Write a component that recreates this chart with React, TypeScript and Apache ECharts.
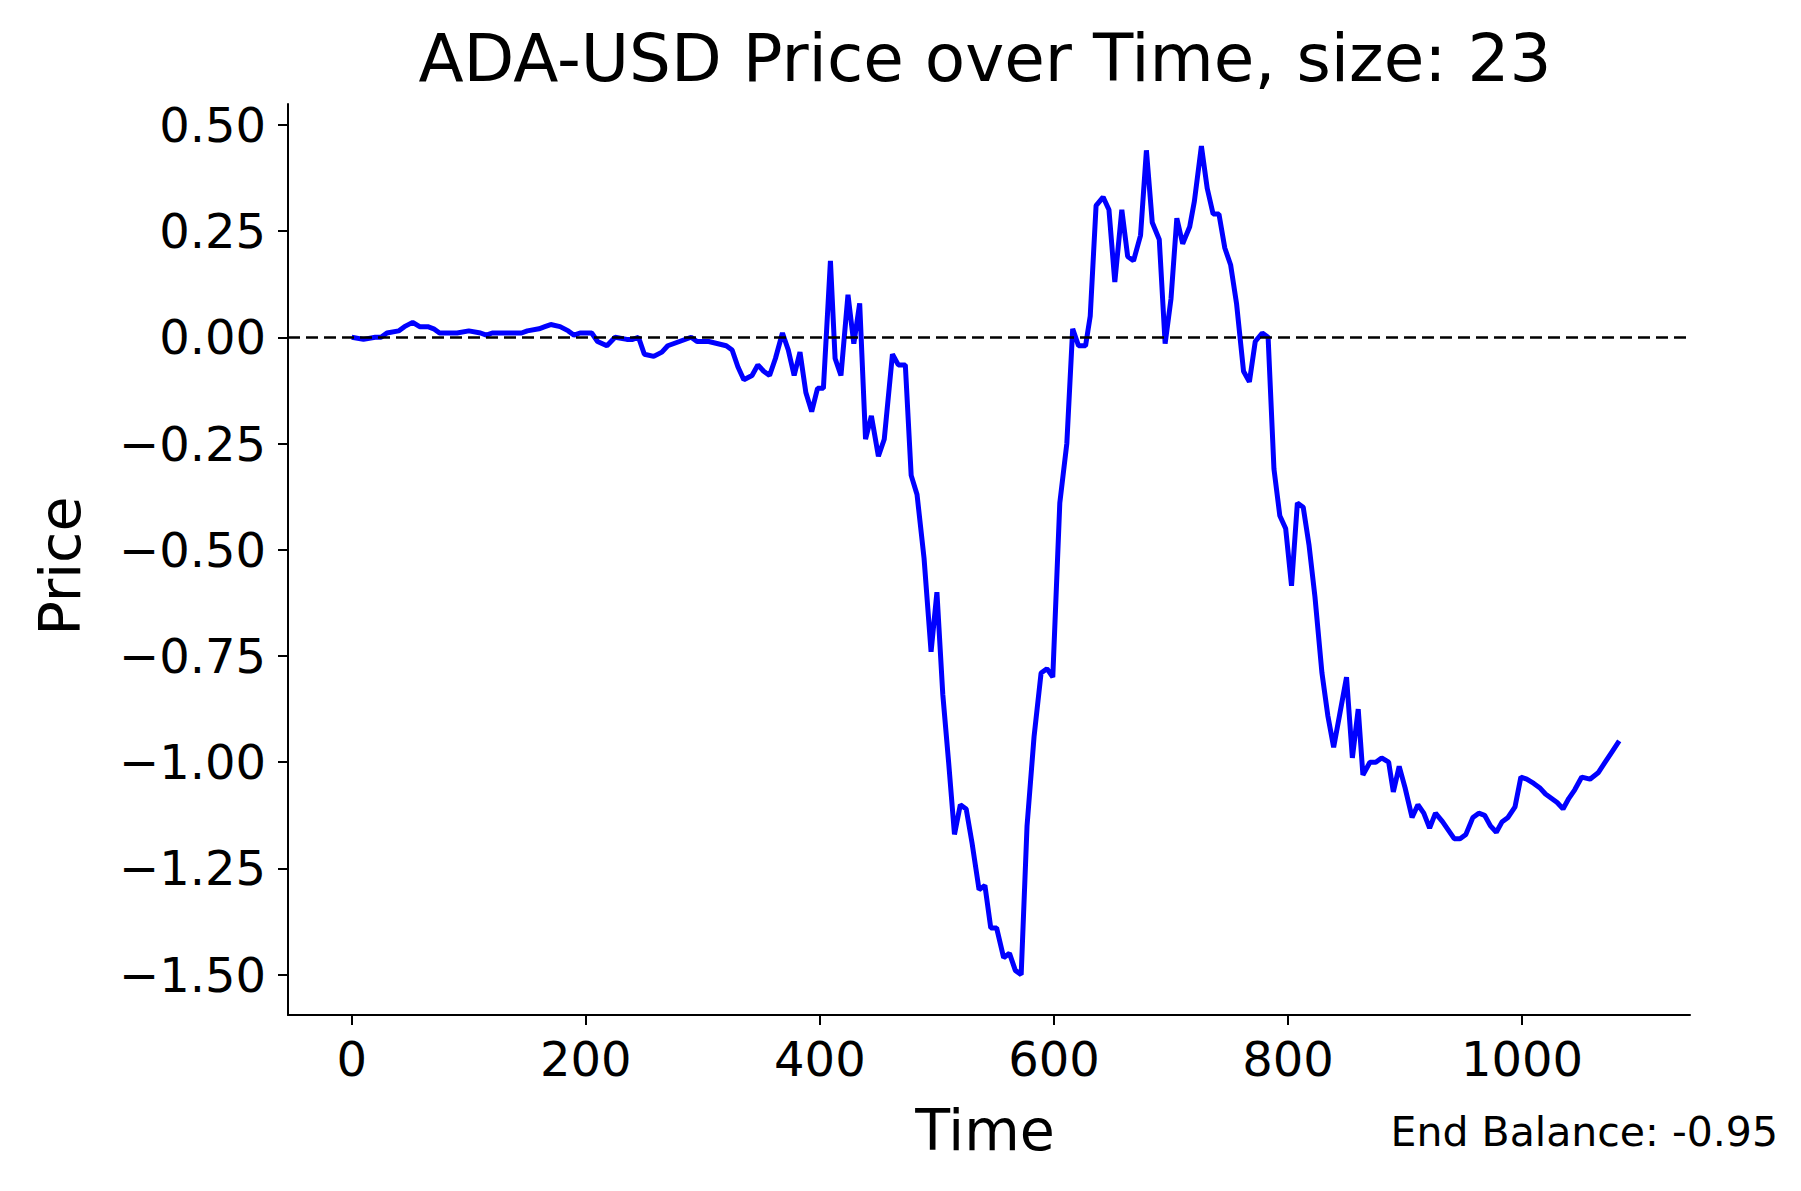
import * as echarts from "echarts";
import { useEffect, useRef } from "react";

const times = [0, 10, 20, 25, 30, 40, 45, 52, 58, 65, 70, 75, 80, 90, 100, 110, 115, 120, 135, 145, 150, 160, 165, 170, 178, 185, 190, 195, 205, 210, 218, 225, 235, 240, 245, 250, 258, 265, 270, 280, 290, 295, 305, 320, 325, 330, 335, 342, 347, 352, 357, 362, 368, 373, 378, 383, 388, 393, 398, 403, 409, 413, 418, 424, 429, 434, 439, 444, 450, 455, 462, 467, 473, 478, 483, 489, 495, 500, 505, 510, 515, 520, 525, 530, 536, 541, 546, 551, 557, 562, 567, 572, 577, 583, 589, 594, 599, 605, 611, 616, 621, 627, 631, 636, 642, 647, 652, 658, 663, 668, 674, 679, 684, 690, 695, 700, 705, 710, 716, 720, 726, 731, 736, 741, 746, 751, 756, 762, 767, 772, 778, 783, 788, 793, 798, 803, 808, 813, 818, 823, 829, 834, 839, 844, 850, 855, 860, 864, 870, 875, 880, 886, 890, 895, 900, 906, 911, 916, 921, 926, 932, 937, 942, 947, 952, 958, 963, 968, 973, 978, 983, 988, 994, 999, 1004, 1010, 1015, 1020, 1025, 1030, 1035, 1040, 1045, 1051, 1058, 1065, 1071, 1077, 1083, 1089];
const prices = [0.0, -0.005, 0, 0, 0.01, 0.015, 0.025, 0.035, 0.025, 0.025, 0.02, 0.01, 0.01, 0.01, 0.015, 0.01, 0.005, 0.01, 0.01, 0.01, 0.015, 0.02, 0.025, 0.03, 0.025, 0.015, 0.005, 0.01, 0.01, -0.01, -0.02, 0, -0.005, -0.005, 0, -0.04, -0.045, -0.035, -0.02, -0.01, 0, -0.01, -0.01, -0.02, -0.03, -0.07, -0.1, -0.09, -0.065, -0.08, -0.09, -0.05, 0.01, -0.03, -0.09, -0.035, -0.13, -0.175, -0.12, -0.12, 0.18, -0.05, -0.09, 0.1, -0.015, 0.08, -0.24, -0.185, -0.28, -0.24, -0.04, -0.065, -0.065, -0.325, -0.37, -0.52, -0.74, -0.6, -0.84, -1.0, -1.17, -1.1, -1.11, -1.19, -1.3, -1.29, -1.39, -1.39, -1.46, -1.45, -1.49, -1.5, -1.15, -0.94, -0.79, -0.78, -0.8, -0.39, -0.25, 0.02, -0.02, -0.02, 0.05, 0.31, 0.33, 0.3, 0.13, 0.3, 0.19, 0.18, 0.24, 0.44, 0.27, 0.23, -0.015, 0.09, 0.28, 0.22, 0.26, 0.32, 0.45, 0.35, 0.29, 0.29, 0.21, 0.17, 0.08, -0.08, -0.105, -0.01, 0.01, 0, -0.31, -0.42, -0.45, -0.585, -0.39, -0.4, -0.49, -0.61, -0.79, -0.89, -0.965, -0.89, -0.8, -0.99, -0.875, -1.03, -1.0, -1.0, -0.99, -1.0, -1.07, -1.01, -1.06, -1.13, -1.1, -1.12, -1.155, -1.12, -1.14, -1.16, -1.18, -1.18, -1.17, -1.13, -1.12, -1.125, -1.15, -1.165, -1.14, -1.13, -1.105, -1.035, -1.04, -1.05, -1.06, -1.075, -1.085, -1.095, -1.11, -1.085, -1.065, -1.035, -1.04, -1.025, -1.0, -0.975, -0.95];
const xTicks = [0, 200, 400, 600, 800, 1000];
const yTicks = [-1.5, -1.25, -1.0, -0.75, -0.5, -0.25, 0, 0.25, 0.5];

const FONT = "DejaVu Sans";

const App = () => {
  const chartRef = useRef<HTMLDivElement>(null);

  useEffect(() => {
    document.body.style.margin = "0";
    const chart = echarts.init(chartRef.current as HTMLDivElement, null, { renderer: "svg" });
    const axisLine = { show: true, onZero: false, lineStyle: { color: "#000", width: 2 } };
    const tick = { show: true, inside: false, length: 10, lineStyle: { color: "#000", width: 2 } };
    const option = {
      animation: false,
      grid: { left: 288, right: 111, top: 104, bottom: 176 },
      graphic: [
        { type: "text", x: 985, y: 58, style: { text: "ADA-USD Price over Time, size: 23", font: `66px ${FONT}`, fill: "#000", textAlign: "center", textVerticalAlign: "middle" } },
        { type: "text", x: 985, y: 1130, style: { text: "Time", font: `57px ${FONT}`, fill: "#000", textAlign: "center", textVerticalAlign: "middle" } },
        { type: "text", x: 60, y: 566, rotation: Math.PI / 2, style: { text: "Price", font: `57px ${FONT}`, fill: "#000", textAlign: "center", textVerticalAlign: "middle" } },
        { type: "text", x: 1778, y: 1132, style: { text: "End Balance: -0.95", font: `41px ${FONT}`, fill: "#000", textAlign: "right", textVerticalAlign: "middle" } },
      ],
      xAxis: {
        type: "value",
        min: -54.5,
        max: 1143.5,
        splitLine: { show: false },
        axisLine,
        axisTick: { ...tick, customValues: xTicks },
        axisLabel: { customValues: xTicks, margin: 20, fontSize: 48, fontFamily: FONT, color: "#000", formatter: (v: number) => String(v) },
      },
      yAxis: {
        type: "value",
        min: -1.595,
        max: 0.549,
        splitLine: { show: false },
        axisLine,
        axisTick: { ...tick, customValues: yTicks },
        axisLabel: {
          customValues: yTicks,
          margin: 22,
          fontSize: 48,
          fontFamily: FONT,
          color: "#000",
          formatter: (v: number) => v.toFixed(2).replace("-", "\u2212"),
        },
      },
      series: [
        {
          type: "line",
          data: times.map((t, i) => [t, prices[i]]),
          showSymbol: false,
          lineStyle: { color: "#0000ff", width: 5 },
          markLine: {
            silent: true,
            symbol: "none",
            label: { show: false },
            lineStyle: { color: "#000", type: [12, 6], width: 2.5 },
            data: [{ yAxis: 0 }],
          },
        },
      ],
    };
    chart.setOption(option);
    return () => {
      chart.dispose();
    };
  }, []);

  return <div ref={chartRef} style={{ width: "1801px", height: "1191px" }} />;
};

export default App;
